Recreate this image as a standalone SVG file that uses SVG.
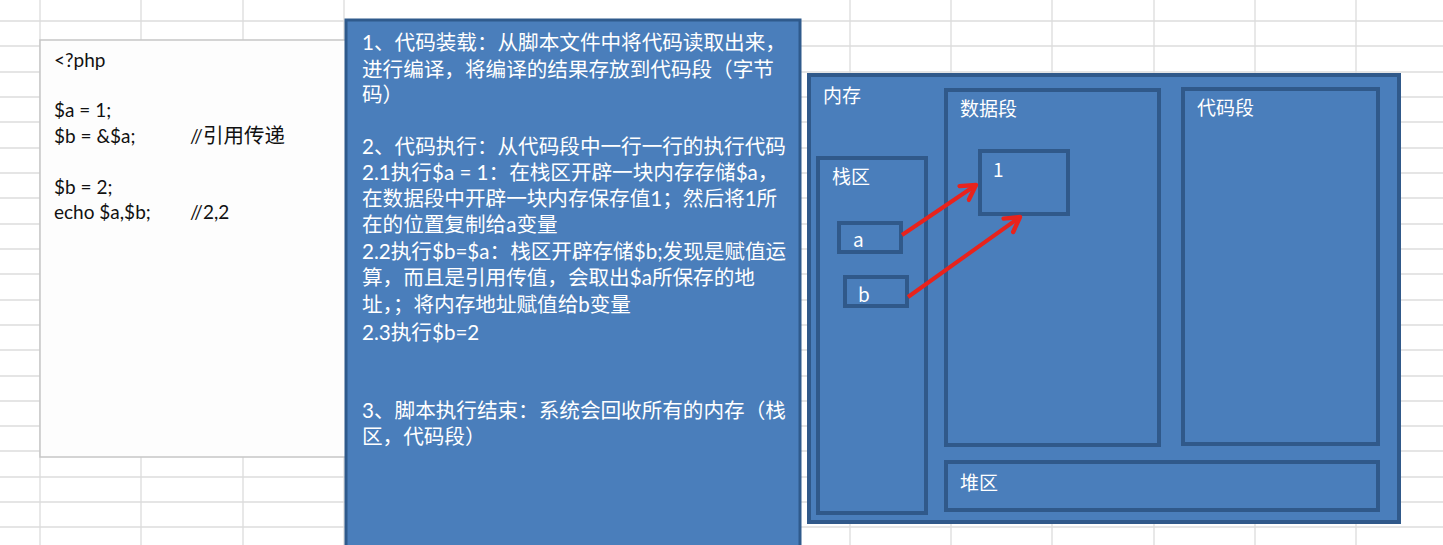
<svg xmlns="http://www.w3.org/2000/svg" width="1443" height="545" viewBox="0 0 1443 545">
<defs>
<style>
.grid line{stroke:#dcdcdc;stroke-width:1.3}
.blue{fill:#4A7EBB;stroke:#30598A;stroke-width:4}
.txt{font-family:Lato,"Noto Sans CJK SC",sans-serif;font-size:20.6px;fill:#ffffff}
.code{font-family:Lato,"Noto Sans CJK SC",sans-serif;font-size:19px;fill:#111111}
.cjk{font-size:20.5px}
.lbl{font-family:"Noto Sans CJK SC",sans-serif;font-size:19px;fill:#ffffff}
.arrow{stroke:#E8231C;stroke-width:4;fill:none;marker-end:url(#ah)}
</style>
<marker id="ah" markerUnits="userSpaceOnUse" markerWidth="22" markerHeight="22" refX="15" refY="9" orient="auto" viewBox="0 0 20 18">
<path d="M2,1.5 L15,9 L2,16.5" fill="none" stroke="#E8231C" stroke-width="4" stroke-linecap="round" stroke-linejoin="round"/>
</marker>
</defs>
<rect width="1443" height="545" fill="#ffffff"/>
<g class="grid">
<line x1="40" y1="0" x2="40" y2="545"/>
<line x1="141" y1="0" x2="141" y2="545"/>
<line x1="243" y1="0" x2="243" y2="545"/>
<line x1="344" y1="0" x2="344" y2="545"/>
<line x1="850" y1="0" x2="850" y2="545"/>
<line x1="951" y1="0" x2="951" y2="545"/>
<line x1="1052" y1="0" x2="1052" y2="545"/>
<line x1="1154" y1="0" x2="1154" y2="545"/>
<line x1="1255" y1="0" x2="1255" y2="545"/>
<line x1="1356" y1="0" x2="1356" y2="545"/>
<line x1="0" y1="21" x2="1443" y2="21"/>
<line x1="0" y1="46" x2="1443" y2="46"/>
<line x1="0" y1="72" x2="1443" y2="72"/>
<line x1="0" y1="97" x2="1443" y2="97"/>
<line x1="0" y1="122" x2="1443" y2="122"/>
<line x1="0" y1="148" x2="1443" y2="148"/>
<line x1="0" y1="173" x2="1443" y2="173"/>
<line x1="0" y1="198" x2="1443" y2="198"/>
<line x1="0" y1="224" x2="1443" y2="224"/>
<line x1="0" y1="249" x2="1443" y2="249"/>
<line x1="0" y1="274" x2="1443" y2="274"/>
<line x1="0" y1="300" x2="1443" y2="300"/>
<line x1="0" y1="325" x2="1443" y2="325"/>
<line x1="0" y1="350" x2="1443" y2="350"/>
<line x1="0" y1="376" x2="1443" y2="376"/>
<line x1="0" y1="401" x2="1443" y2="401"/>
<line x1="0" y1="426" x2="1443" y2="426"/>
<line x1="0" y1="451" x2="1443" y2="451"/>
<line x1="0" y1="477" x2="1443" y2="477"/>
<line x1="0" y1="502" x2="1443" y2="502"/>
<line x1="0" y1="527" x2="1443" y2="527"/>
</g>
<g id="code-box">
<rect x="40" y="40" width="306" height="417" fill="#fdfdfd" stroke="#c6c6c6" stroke-width="1.5"/>
<text class="code" x="54" y="67">&lt;?php</text>
<text class="code" x="54" y="117">$a = 1;</text>
<text class="code" x="54" y="143">$b = &amp;$a;</text>
<text class="code" x="190" y="143">//<tspan class="cjk">引用传递</tspan></text>
<text class="code" x="54" y="194">$b = 2;</text>
<text class="code" x="54" y="219">echo $a,$b;</text>
<text class="code" x="190" y="219">//2,2</text>
</g>
<g id="explain-box">
<rect x="346" y="20" width="454" height="540" fill="#4A7EBB" stroke="#2F5A8C" stroke-width="3"/>
<text class="txt" x="362" y="50">1、代码装载：从脚本文件中将代码读取出来，</text>
<text class="txt" x="362" y="77">进行编译，将编译的结果存放到代码段（字节</text>
<text class="txt" x="362" y="102">码）</text>
<text class="txt" x="362" y="154">2、代码执行：从代码段中一行一行的执行代码</text>
<text class="txt" x="362" y="180">2.1执行$a = 1：在栈区开辟一块内存存储$a，</text>
<text class="txt" x="362" y="206">在数据段中开辟一块内存保存值1；然后将1所</text>
<text class="txt" x="362" y="232">在的位置复制给a变量</text>
<text class="txt" x="362" y="259">2.2执行$b=$a：栈区开辟存储$b;发现是赋值运</text>
<text class="txt" x="362" y="285">算，而且是引用传值，会取出$a所保存的地</text>
<text class="txt" x="362" y="312">址，；将内存地址赋值给b变量</text>
<text class="txt" x="362" y="340">2.3执行$b=2</text>
<text class="txt" x="362" y="418">3、脚本执行结束：系统会回收所有的内存（栈</text>
<text class="txt" x="362" y="444">区，代码段）</text>
</g>
<g id="memory">
<rect class="blue" x="809" y="75" width="590" height="447" stroke-width="3"/>
<text class="lbl" x="823" y="103">内存</text>
</g>
<g id="stack">
<rect class="blue" x="818" y="158" width="108" height="355"/>
<text class="lbl" x="832" y="184">栈区</text>
</g>
<g id="data-seg">
<rect class="blue" x="946" y="90" width="213" height="355"/>
<text class="lbl" x="960" y="116">数据段</text>
</g>
<g id="code-seg">
<rect class="blue" x="1183" y="89" width="195" height="355"/>
<text class="lbl" x="1197" y="115">代码段</text>
</g>
<g id="heap">
<rect class="blue" x="946" y="462" width="432" height="48"/>
<text class="lbl" x="960" y="490">堆区</text>
</g>
<g id="value-1">
<rect class="blue" x="980" y="151" width="88" height="63"/>
<text class="lbl" x="993" y="177" font-size="16">1</text>
</g>
<g id="var-a">
<rect class="blue" x="839" y="223" width="62" height="29" stroke-width="3.5"/>
<text class="lbl" x="853" y="247" font-size="16">a</text>
</g>
<g id="var-b">
<rect class="blue" x="845" y="277" width="62" height="29" stroke-width="3.5"/>
<text class="lbl" x="858" y="302" font-size="16">b</text>
</g>
<g id="connectors">
<line class="arrow" x1="902" y1="235" x2="976" y2="185"/>
<line class="arrow" x1="908" y1="297" x2="1020" y2="217"/>
</g>
</svg>
